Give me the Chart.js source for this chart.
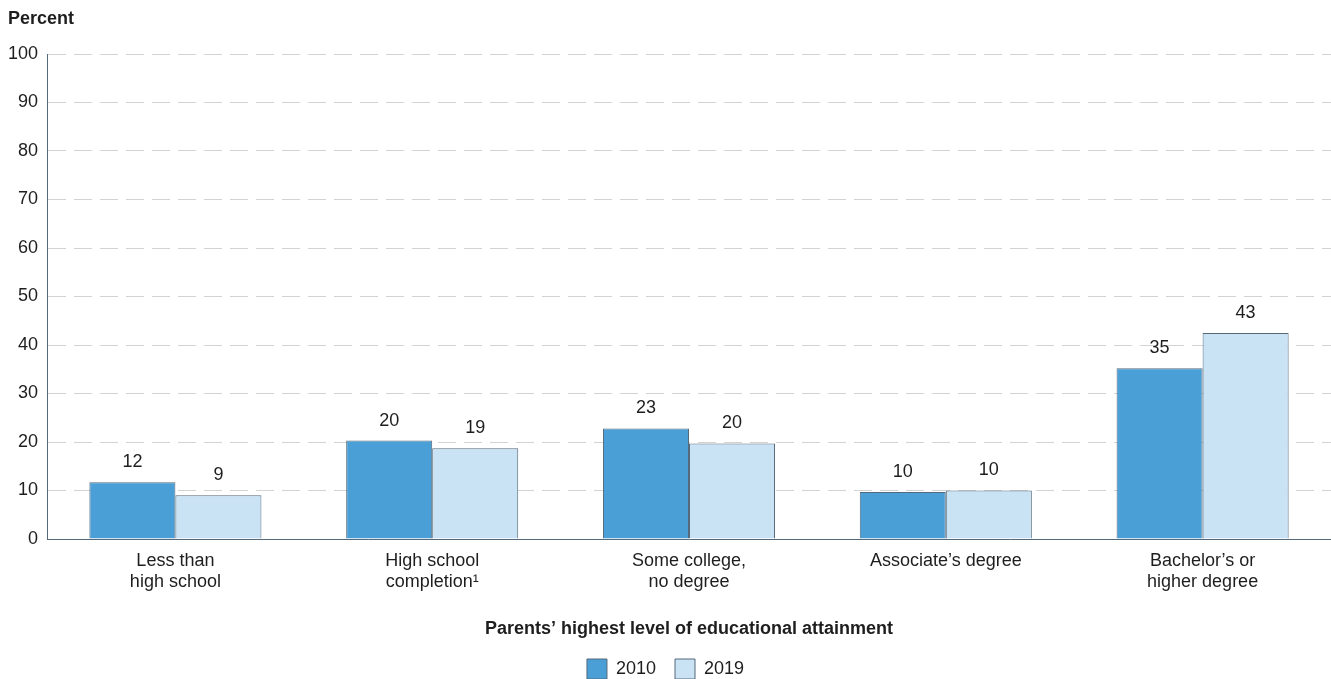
<!DOCTYPE html>
<html>
<head>
<meta charset="utf-8">
<script src="https://cdn.jsdelivr.net/npm/chart.js@4/dist/chart.umd.min.js"></script>
<style>
  html, body { margin: 0; padding: 0; background: #fff; }
  #wrap { width: 1331px; height: 679px; position: relative; }
</style>
</head>
<body>
<div id="wrap"><canvas id="c"></canvas></div>
<script>
const categories = [
  ["Less than", "high school"],
  ["High school", "completion\u00B9"],
  ["Some college,", "no degree"],
  ["Associate\u2019s degree"],
  ["Bachelor\u2019s or", "higher degree"]
];
const seriesNames = ["2010", "2019"];
const values2010 = [11.7, 20.3, 22.8, 9.7, 35.2];
const values2019 = [9.0, 18.7, 19.7, 10.0, 42.5];
const yTicks = [0, 10, 20, 30, 40, 50, 60, 70, 80, 90, 100];
const yTitle = "Percent";
const xTitle = "Parents\u2019 highest level of educational attainment";

const FONT = "'Liberation Sans', Arial, Helvetica, sans-serif";
const TEXT = "#1e1e1e";
const EDGE = "#55697a";

const labelPlugin = {
  id: 'barLabels',
  afterDatasetsDraw(chart) {
    const ctx = chart.ctx;
    ctx.save();
    ctx.font = "18px " + FONT;
    ctx.fillStyle = TEXT;
    ctx.textAlign = 'center';
    ctx.textBaseline = 'middle';
    chart.data.datasets.forEach((ds, di) => {
      const meta = chart.getDatasetMeta(di);
      meta.data.forEach((bar, i) => {
        ctx.fillText(String(Math.round(ds.data[i])), bar.x, bar.y - 20);
      });
    });
    ctx.restore();
  },
  afterDraw(chart) {
    const ctx = chart.ctx;
    ctx.save();
    ctx.font = "bold 18px " + FONT;
    ctx.fillStyle = TEXT;
    ctx.textAlign = 'left';
    ctx.textBaseline = 'middle';
    ctx.fillText(yTitle, 8, 19.5);
    ctx.restore();
  }
};

new Chart(document.getElementById('c'), {
  type: 'bar',
  data: {
    labels: categories,
    datasets: [
      { label: seriesNames[0], data: values2010, backgroundColor: '#4a9fd7', borderColor: EDGE, borderWidth: 1 },
      { label: seriesNames[1], data: values2019, backgroundColor: '#c9e3f5', borderColor: EDGE, borderWidth: 1 }
    ]
  },
  options: {
    responsive: true,
    maintainAspectRatio: false,
    animation: false,
    layout: { padding: { top: 54, left: 0, right: 0, bottom: -10 } },
    datasets: { bar: { categoryPercentage: 0.67, barPercentage: 1.0 } },
    plugins: {
      legend: {
        display: true,
        position: 'bottom',
        labels: {
          boxWidth: 20, boxHeight: 20, padding: 19,
          color: TEXT,
          font: { family: FONT, size: 18 }
        }
      },
      tooltip: { enabled: false },
      title: { display: false }
    },
    scales: {
      x: {
        grid: { display: false, drawTicks: false },
        border: { display: true, color: EDGE, width: 1 },
        ticks: {
          color: TEXT, padding: 12, maxRotation: 0, autoSkip: false,
          font: { family: FONT, size: 18, lineHeight: 1.14 }
        },
        title: {
          display: true, text: xTitle, color: TEXT,
          font: { family: FONT, size: 18, weight: 'bold', lineHeight: 1.2 },
          padding: { top: 0, bottom: 0 }
        },
        afterFit(scale) { scale.height = 101; }
      },
      y: {
        min: 0, max: 100,
        afterBuildTicks(scale) { scale.ticks = yTicks.map(v => ({ value: v })); },
        grid: {
          drawTicks: false,
          color: (c) => (c.tick && c.tick.value === 0) ? 'rgba(0,0,0,0)' : '#d3d3d3',
          lineWidth: 1
        },
        border: { display: true, color: EDGE, width: 1, dash: [18, 8] },
        ticks: {
          color: TEXT, padding: 9,
          font: { family: FONT, size: 18 }
        },
        afterFit(scale) { scale.width = 47; }
      }
    }
  },
  plugins: [labelPlugin]
});
</script>
</body>
</html>
